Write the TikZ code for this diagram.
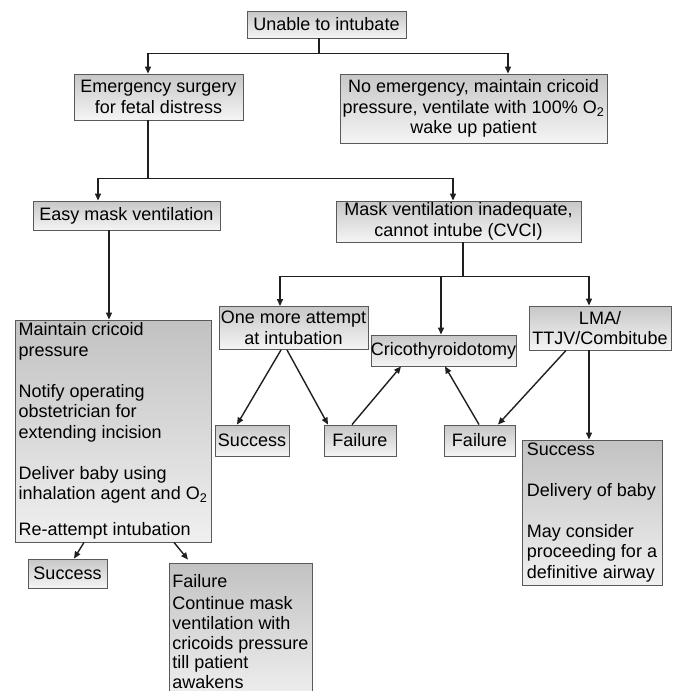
\documentclass[tikz,border=0pt]{standalone}
\usepackage{fontspec}
\setmainfont{Liberation Sans}
\usetikzlibrary{arrows.meta}
\begin{document}
\begin{tikzpicture}[x=1pt,y=-1pt,
 box/.style={draw=black!65, line width=0.9pt, top color=black!22, bottom color=black!4,
   inner sep=0pt, align=center, font=\fontsize{18}{20.5}\selectfont},
 bigbox/.style={box, top color=black!24, bottom color=black!6, align=left},
 conn/.style={draw=black!88, line width=1.4pt},
 arr/.style={conn, -{Triangle[length=7pt,width=6pt]}}]
\useasboundingbox (0,0) rectangle (673,691);
\fill[white] (0,0) rectangle (673,691);
\clip (0,0) rectangle (673,691);

\node[box, minimum width=159pt, minimum height=27pt] (unable) at (326.5,24.5) {Unable to intubate};
\node[box, minimum width=169pt, minimum height=46pt] (emerg) at (158.5,97) {Emergency surgery\\for fetal distress};
\node[box, minimum width=267pt, minimum height=69pt] (noemerg) at (473.5,108.5) {No emergency, maintain cricoid\\pressure, ventilate with 100\% O\textsubscript{2}\\wake up patient};
\node[box, minimum width=187pt, minimum height=29pt] (easy) at (126.5,215.5) {Easy mask ventilation};
\node[box, minimum width=245pt, minimum height=41pt] (cvci) at (458.5,221.5) {Mask ventilation inadequate,\\cannot intube (CVCI)};
\node[bigbox, minimum width=196pt, minimum height=222pt] (maintain) at (113,431) {Maintain cricoid\\pressure\\[20.5pt]Notify operating\\obstetrician for\\extending incision\\[20.5pt]Deliver baby using\\inhalation agent and O\textsubscript{2}\\[15.5pt]Re-attempt intubation};
\node[box, minimum width=149pt, minimum height=43pt] (onemore) at (293.5,328) {One more attempt\\at intubation};
\node[box, minimum width=139pt, minimum height=31pt] (crico) at (443.5,350.5) {Cricothyroidotomy};
\node[box, minimum width=142pt, minimum height=44pt] (lma) at (600,328) {LMA/\\TTJV/Combitube};
\node[box, minimum width=74pt, minimum height=31pt] (succ1) at (252,440.5) {Success};
\node[box, minimum width=72pt, minimum height=31pt] (fail1) at (360,440.5) {Failure};
\node[box, minimum width=71pt, minimum height=31pt] (fail2) at (479.5,440.5) {Failure};
\node[bigbox, minimum width=140pt, minimum height=145pt] (succR) at (592,512.5) {Success\\[20.5pt]Delivery of baby\\[20.5pt]May consider\\proceeding for a\\definitive airway};
\node[box, minimum width=79pt, minimum height=29pt] (succ2) at (67.5,573.5) {Success};
\node[bigbox, minimum width=143pt, minimum height=137pt, font=\fontsize{18}{19.8}\selectfont] (failB) at (240.5,631.5) {Failure\\[2.5pt]Continue mask\\ventilation with\\cricoids pressure\\till patient\\awakens};

% top level
\draw[conn] ([xshift=-7.5pt]unable.south) -- ++(0,15) coordinate (j1);
\draw[arr] (j1) -| ([xshift=-10.5pt]emerg.north);
\draw[arr] (j1) -| ([xshift=34.5pt]noemerg.north);
% emergency
\draw[conn] ([xshift=-10.5pt]emerg.south) -- ++(0,58) coordinate (j2);
\draw[arr] (j2) -| ([xshift=-28.5pt]easy.north);
\draw[arr] (j2) -| ([xshift=-5.5pt]cvci.north);
% easy
\draw[arr] ([xshift=-17.5pt]easy.south) -- ([xshift=-17.5pt]easy.south |- maintain.north);
% cvci
\draw[conn] ([xshift=4.5pt]cvci.south) -- ++(0,34) coordinate (j3);
\draw[arr] (j3) -| ([xshift=-13.5pt]onemore.north);
\draw[arr] (j3) -| ([xshift=-2.5pt]crico.north);
\draw[arr] (j3) -| ([xshift=-11pt]lma.north);
% one more attempt
\draw[arr] ([xshift=-12.5pt]onemore.south) -- ([xshift=-15pt]succ1.north);
\draw[arr] ([xshift=-6.5pt]onemore.south) -- ([xshift=-32pt]fail1.north);
\draw[arr] ([xshift=-8pt]fail1.north) -- ([xshift=-42.5pt]crico.south);
\draw[arr] ([xshift=-0.5pt]fail2.north) -- ([xshift=1.5pt]crico.south);
% LMA
\draw[arr] ([xshift=-34pt]lma.south) -- ([xshift=18.5pt]fail2.north);
\draw[arr] ([xshift=-11pt]lma.south) -- ([xshift=-11pt]lma.south |- succR.north);
% maintain
\draw[arr] ([xshift=-29pt]maintain.south) -- ([xshift=6.5pt]succ2.north);
\draw[arr] ([xshift=61pt]maintain.south) -- ([xshift=-52.5pt,yshift=3pt]failB.north);
\end{tikzpicture}
\end{document}
